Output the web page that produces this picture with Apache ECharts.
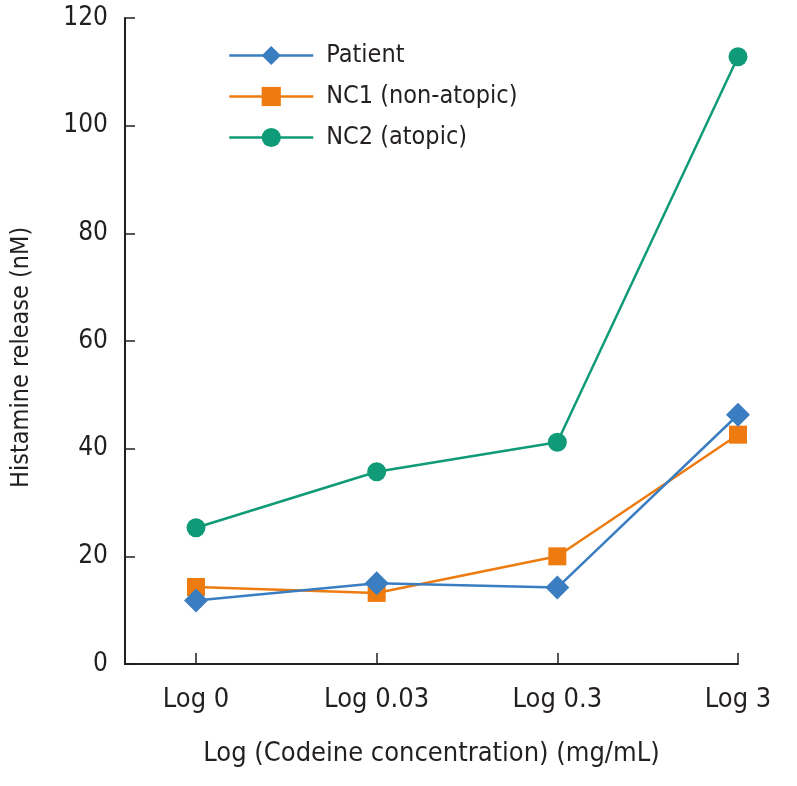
<!DOCTYPE html>
<html>
<head>
<meta charset="utf-8">
<script src="https://cdn.jsdelivr.net/npm/echarts@6/dist/echarts.min.js"></script>
<style>html,body{margin:0;padding:0;background:#fff;}#c{width:797px;height:786px;}</style>
</head>
<body>
<div id="c"></div>
<script>
const categories = ['Log 0', 'Log 0.03', 'Log 0.3', 'Log 3'];
const patient = [11.8, 15.0, 14.2, 46.3];
const nc1 = [14.3, 13.2, 20.0, 42.6];
const nc2 = [25.3, 35.7, 41.2, 112.8];
const yTicks = [0, 20, 40, 60, 80, 100, 120];
const yTitle = 'Histamine release (nM)';
const xTitle = 'Log (Codeine concentration) (mg/mL)';

const FONT = '"Liberation Sans Narrow", "DejaVu Sans Condensed", "Liberation Sans", sans-serif';
const INK = '#231f20';

function pts(arr) { return arr.map((v, i) => [i, v]); }

const chart = echarts.init(document.getElementById('c'));
chart.setOption({
  backgroundColor: '#fff',
  animation: false,
  grid: { left: 125, right: 59, top: 18, bottom: 122, containLabel: false },
  legend: {
    left: 223, top: 38, orient: 'vertical',
    itemWidth: 84, itemHeight: 24, itemGap: 16,
    lineStyle: { width: 2.5 },
    textStyle: { fontFamily: FONT, fontSize: 25, lineHeight: 24, color: INK, padding: [0, 0, 0, 8] },
    data: ['Patient', 'NC1 (non-atopic)', 'NC2 (atopic)']
  },
  graphic: [{
    type: 'text', x: 21, y: 488, rotation: Math.PI / 2, silent: true,
    style: { text: yTitle, fontFamily: FONT, fontSize: 25, fill: INK,
      align: 'left', verticalAlign: 'middle' }
  }],
  xAxis: {
    type: 'value', min: -0.393, max: 3,
    name: xTitle,
    nameLocation: 'middle', nameGap: 76,
    nameTextStyle: { fontFamily: FONT, fontSize: 27, color: INK },
    axisLine: { onZero: false, lineStyle: { color: INK, width: 2 } },
    axisTick: { inside: true, length: 11, lineStyle: { color: INK, width: 1.5 }, customValues: [0, 1, 2, 3] },
    axisLabel: { fontFamily: FONT, fontSize: 27, color: INK, margin: 22,
      customValues: [0, 1, 2, 3], formatter: v => categories[Math.round(v)] },
    splitLine: { show: false }
  },
  yAxis: {
    type: 'value', min: 0, max: 120, interval: 20,
    axisLine: { show: true, onZero: false, lineStyle: { color: INK, width: 2 } },
    axisTick: { show: true, inside: true, length: 10, lineStyle: { color: INK, width: 1.5 } },
    axisLabel: { fontFamily: FONT, fontSize: 26, color: INK, margin: 17,
      formatter: v => yTicks.includes(v) ? String(v) : '' },
    splitLine: { show: false }
  },
  series: [
    { name: 'Patient', type: 'line', data: pts(patient), symbol: 'diamond', symbolSize: 24,
      itemStyle: { color: '#3a7dc1' }, lineStyle: { width: 2.5, color: '#3a7dc1' }, z: 4 },
    { name: 'NC1 (non-atopic)', type: 'line', data: pts(nc1), symbol: 'rect', symbolSize: 18,
      itemStyle: { color: '#ee7b0f' }, lineStyle: { width: 2.5, color: '#ee7b0f' }, z: 3 },
    { name: 'NC2 (atopic)', type: 'line', data: pts(nc2), symbol: 'circle', symbolSize: 19,
      itemStyle: { color: '#0f9a78' }, lineStyle: { width: 2.5, color: '#0f9a78' }, z: 2 }
  ]
});
</script>
</body>
</html>
